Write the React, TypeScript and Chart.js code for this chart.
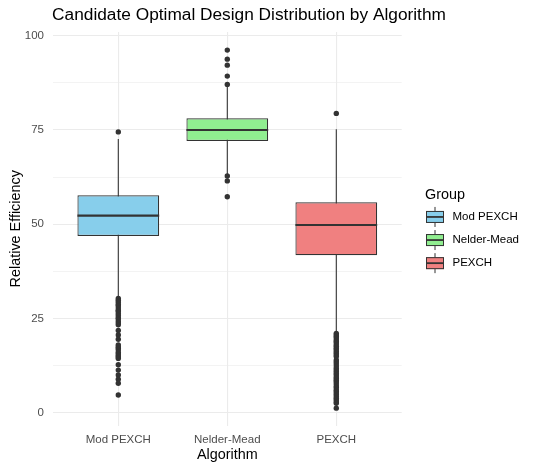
import React, { useEffect, useRef } from "react";
import { Chart, registerables } from "chart.js";

Chart.register(...registerables);

const chartTitle = "Candidate Optimal Design Distribution by Algorithm";
const categories = ["Mod PEXCH", "Nelder-Mead", "PEXCH"];
const fillColors = ["#87CEEB", "#90EE90", "#F08080"];
const q1 = [46.9, 72.1, 41.8];
const medians = [52.3, 75.0, 49.8];
const q3 = [57.7, 78.1, 55.8];
const whiskerLow = [30.8, 63.1, 21.2];
const whiskerHigh = [72.6, 86.7, 75.2];

const outliersModPEXCH = [
  74.5, 30.3, 29.8, 29.3, 28.7, 28.4, 27.8, 27.2, 26.9, 26.3, 25.8, 25.2, 24.9,
  24.3, 23.8, 23.3, 21.8, 20.6, 19.5, 18.0, 17.5, 17.1, 16.6, 16.0, 15.6, 15.1,
  14.8, 14.4, 12.7, 11.3, 10.0, 8.9, 7.8, 4.7,
];
const outliersNelderMead = [96.2, 93.8, 92.2, 89.3, 87.1, 62.8, 61.5, 57.3];
const outliersPEXCH = [
  79.4, 21.0, 20.6, 20.2, 19.8, 19.3, 18.9, 18.5, 18.0, 17.6, 17.1, 16.7, 16.2,
  15.8, 15.3, 14.9, 14.0, 13.5, 13.0, 12.4, 11.8, 11.3, 10.9, 10.4, 10.0, 9.5,
  9.1, 8.6, 8.2, 7.7, 7.1, 6.7, 6.1, 5.7, 5.2, 4.8, 4.3, 3.8, 3.4, 2.9, 2.5, 1.2,
];
const outlierSets = [outliersModPEXCH, outliersNelderMead, outliersPEXCH];

const yTicks = [0, 25, 50, 75, 100];
const yMinorTicks = [12.5, 37.5, 62.5, 87.5];

const FONT = "'Liberation Sans', Arial, sans-serif";
const INK = "#333333";

const medianPlugin = {
  id: "medianLines",
  afterDatasetsDraw(chart: any) {
    const meta = chart.getDatasetMeta(0);
    const yScale = chart.scales.y;
    const ctx = chart.ctx;
    ctx.save();
    ctx.strokeStyle = INK;
    ctx.lineWidth = 2.2;
    meta.data.forEach((bar: any, i: number) => {
      const y = yScale.getPixelForValue(medians[i]);
      const half = bar.width / 2;
      ctx.beginPath();
      ctx.moveTo(bar.x - half, y);
      ctx.lineTo(bar.x + half, y);
      ctx.stroke();
    });
    ctx.restore();
  },
};

const titlePlugin = {
  id: "plotTitle",
  afterDraw(chart: any) {
    const { ctx, chartArea } = chart;
    ctx.save();
    ctx.fillStyle = "#000000";
    ctx.textBaseline = "middle";
    ctx.textAlign = "left";
    ctx.font = `17.3px ${FONT}`;
    ctx.fillText(chartTitle, chartArea.left - 0.8, chartArea.top - 16.5);
    ctx.restore();
  },
};

const legendPlugin = {
  id: "boxLegend",
  afterDraw(chart: any) {
    const { ctx, chartArea } = chart;
    const x0 = chartArea.right + 24.3;
    const cy = (chartArea.top + chartArea.bottom) / 2;
    ctx.save();
    ctx.fillStyle = "#000000";
    ctx.textBaseline = "middle";
    ctx.textAlign = "left";
    ctx.font = `14.4px ${FONT}`;
    ctx.fillText("Group", x0 - 1, cy - 34);
    categories.forEach((name, i) => {
      const y = cy - 11.8 + i * 23.1;
      const w = 18;
      const h = 12;
      ctx.strokeStyle = INK;
      ctx.lineWidth = 1;
      ctx.beginPath();
      ctx.moveTo(x0 + w / 2, y - 10);
      ctx.lineTo(x0 + w / 2, y + 10);
      ctx.stroke();
      ctx.fillStyle = fillColors[i];
      ctx.fillRect(x0, y - h / 2, w, h);
      ctx.strokeRect(x0 + 0.5, y - h / 2 + 0.5, w - 1, h - 1);
      ctx.lineWidth = 1.8;
      ctx.beginPath();
      ctx.moveTo(x0, y);
      ctx.lineTo(x0 + w, y);
      ctx.stroke();
      ctx.fillStyle = "#000000";
      ctx.font = `11.5px ${FONT}`;
      ctx.fillText(name, x0 + 26.5, y);
    });
    ctx.restore();
  },
};

export default function App() {
  const canvasRef = useRef<HTMLCanvasElement | null>(null);

  useEffect(() => {
    if (!canvasRef.current) return;
    Chart.defaults.font.family = FONT;

    const whiskerSets = categories.map((c, i) => ({
      type: "scatter" as const,
      label: `${c} whisker`,
      data: [
        { x: i + 1, y: whiskerLow[i] },
        { x: i + 1, y: whiskerHigh[i] },
      ],
      showLine: true,
      borderColor: INK,
      borderWidth: 1.1,
      pointRadius: 0,
      order: 5,
    }));

    const outlierData: { x: number; y: number }[] = [];
    outlierSets.forEach((set, i) => set.forEach((v) => outlierData.push({ x: i + 1, y: v })));

    const chart = new Chart(canvasRef.current, {
      type: "bar",
      data: {
        datasets: [
          {
            type: "bar",
            label: "box",
            data: categories.map((_, i) => ({ x: i + 1, y: [q1[i], q3[i]] })) as any,
            backgroundColor: fillColors,
            borderColor: INK,
            borderWidth: 1.2,
            borderSkipped: false,
            barPercentage: 0.75,
            categoryPercentage: 1,
            order: 2,
          } as any,
          ...whiskerSets,
          {
            type: "scatter",
            label: "outliers",
            data: outlierData,
            backgroundColor: INK,
            borderWidth: 0,
            pointRadius: 2.7,
            order: 0,
          } as any,
        ],
      },
      options: {
        responsive: false,
        animation: false,
        layout: { padding: { left: 0, right: 138.3, top: 32, bottom: 0 } },
        plugins: {
          legend: { display: false },
          tooltip: { enabled: false },
          title: { display: false },
        },
        scales: {
          x: {
            type: "linear",
            min: 0.4,
            max: 3.6,
            offset: false,
            afterBuildTicks: (scale: any) => {
              scale.ticks = categories.map((_, i) => ({ value: i + 1 }));
            },
            afterFit: (scale: any) => {
              scale.height = 45.5;
            },
            grid: { color: "#EBEBEB", lineWidth: 1.1, drawTicks: false, offset: false },
            border: { display: false },
            ticks: {
              autoSkip: false,
              maxRotation: 0,
              padding: 7.6,
              color: "#4D4D4D",
              font: { family: FONT, size: 11.5 },
              callback: (v: any) => categories[Math.round(Number(v)) - 1] ?? "",
            },
            title: {
              display: true,
              text: "Algorithm",
              color: "#000000",
              font: { family: FONT, size: 14.4 },
              padding: { top: 0, bottom: 7 },
            },
          },
          y: {
            type: "linear",
            min: -3.4,
            max: 101,
            afterBuildTicks: (scale: any) => {
              scale.ticks = [...yTicks, ...yMinorTicks]
                .sort((a, b) => a - b)
                .map((v) => ({ value: v }));
            },
            afterFit: (scale: any) => {
              scale.width = 52.9;
            },
            grid: {
              drawTicks: false,
              color: "#EBEBEB",
              lineWidth: (ctx: any) => (yTicks.includes(ctx.tick?.value) ? 1.1 : 0.6),
            },
            border: { display: false },
            ticks: {
              padding: 8.9,
              color: "#4D4D4D",
              font: { family: FONT, size: 11.5 },
              callback: (v: any) => (yTicks.includes(Number(v)) ? String(v) : ""),
            },
            title: {
              display: true,
              text: "Relative Efficiency",
              color: "#000000",
              font: { family: FONT, size: 14.4 },
              padding: { top: 7.2, bottom: 0 },
            },
          },
        },
      } as any,
      plugins: [medianPlugin, titlePlugin, legendPlugin],
    });

    return () => chart.destroy();
  }, []);

  return (
    <div style={{ position: "fixed", left: 0, top: 0, width: 540, height: 471, background: "#ffffff" }}>
      <canvas ref={canvasRef} width={540} height={471} style={{ display: "block", width: 540, height: 471 }} />
    </div>
  );
}
